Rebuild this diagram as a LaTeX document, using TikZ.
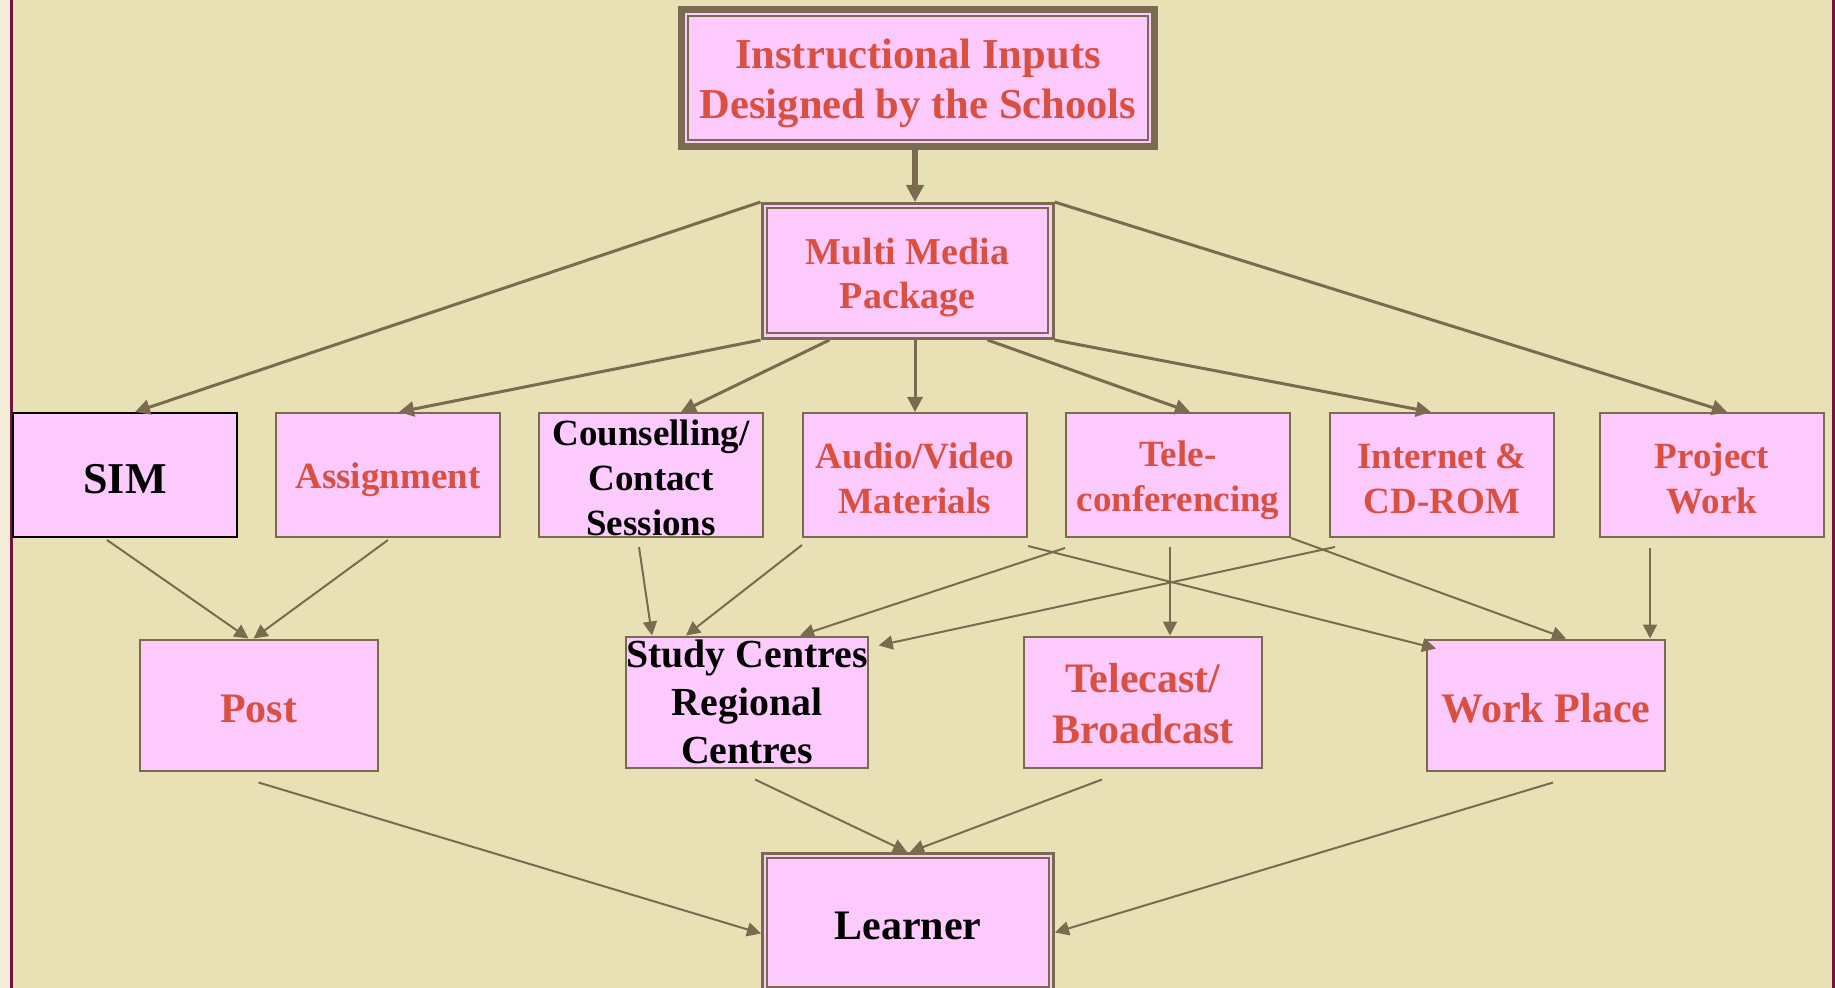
\documentclass[tikz,border=0pt]{standalone}
\usepackage{fontspec}
\setmainfont{Liberation Serif}
\usetikzlibrary{positioning, arrows.meta, calc}

\definecolor{khaki}{RGB}{232,225,182}
\definecolor{paper}{RGB}{243,236,214}
\definecolor{maroon}{RGB}{118,18,64}
\definecolor{boxpink}{RGB}{253,202,253}
\definecolor{framebrown}{RGB}{122,106,80}
\definecolor{inkred}{RGB}{217,80,64}

\begin{document}
\begin{tikzpicture}[
    x=0.5pt, y=-0.5pt,
    node distance=18.5pt,
    toppad/.initial=0pt,
    box/.style={
        rectangle,
        draw=framebrown, line width=1pt,
        fill=boxpink,
        align=center,
        inner sep=0pt,
        minimum width=112pt,
        minimum height=62pt,
        text=inkred,
        toppad=38.3pt,
        execute at begin node={\rule{0pt}{\pgfkeysvalueof{/tikz/toppad}}},
        font=\bfseries\fontsize{18.5}{22.5}\selectfont
    },
    lowbox/.style={
        box,
        minimum width=119pt,
        minimum height=65.5pt,
        toppad=17.5pt,
        font=\bfseries\fontsize{21}{24}\selectfont
    },
    title/.style={
        box,
        line width=3.5pt,
        minimum width=236.5pt,
        minimum height=68.5pt,
        toppad=45.6pt,
        font=\bfseries\fontsize{21.3}{25}\selectfont
    },
    package/.style={
        box,
        line width=1.5pt,
        minimum width=145.5pt,
        minimum height=67.5pt,
        toppad=42.1pt,
        font=\bfseries\fontsize{19}{22}\selectfont
    },
    link/.style={
        draw=framebrown, line width=1pt,
        -{Triangle[length=7pt,width=7pt]}
    },
    biglink/.style={
        link, line width=1.5pt,
        -{Triangle[length=7.5pt,width=7.5pt]}
    }
]

% Background
\fill[khaki] (0,0) rectangle (1835,988);
\fill[paper] (0,0) rectangle (10,988);
\fill[maroon] (10,0) rectangle (13,988);
\fill[maroon] (1832,0) rectangle (1835,988);
\useasboundingbox (0,0) rectangle (1835,988);

% Title
\node[title] (title) at (918,78)
{Instructional Inputs\\Designed by the Schools};

\node[package] (mm) at (907.5,271)
{Multi Media\\Package};

% First row
\node[box,draw=black,text=black,toppad=19.2pt,
      font=\bfseries\fontsize{22}{26}\selectfont] (sim) at (125,475) {SIM};
\node[box,right=of sim,toppad=18pt] (asg) {Assignment};
\node[box,right=of asg,text=black,toppad=60.2pt] (cou) {Counselling/\\Contact\\Sessions};
\node[box,right=19pt of cou] (av) {Audio/Video\\Materials};
\node[box,right=of av,toppad=40.5pt] (tele) {Tele-\\conferencing};
\node[box,right=19pt of tele] (inet) {Internet \&\\CD-ROM};
\node[box,right=22pt of inet] (proj) {Project\\Work};

% Second row
\node[lowbox] (post) at (258.5,705) {Post};
\node[lowbox,text=black,toppad=0pt,
      font=\bfseries\fontsize{19.9}{24}\selectfont] (study) at (747,702) {Study Centres\\Regional\\Centres};
\node[lowbox,toppad=42pt,
      font=\bfseries\fontsize{21}{25.5}\selectfont] (tcast) at (1143,702) {Telecast/\\Broadcast};
\node[lowbox] (work) at (1546,705) {Work Place};

% Learner
\node[package,minimum height=69pt,text=black,toppad=17pt,
      font=\bfseries\fontsize{21}{24}\selectfont] (learner) at (908,922.5) {Learner};

% double frames
\foreach \n/\d in {title/5pt, mm/3.25pt, learner/3pt}
    \draw[framebrown, line width=1pt]
        ([shift={(\d,-\d)}]\n.north west) rectangle ([shift={(-\d,\d)}]\n.south east);

% Inputs to package
\draw[link, line width=3pt, -{Triangle[length=8.5pt,width=8.5pt]}]
    ([xshift=-1.5pt]title.south) -- ([xshift=-1.5pt]title.south |- mm.north);

% Package to media
\draw[biglink] (mm.north west) -- ([xshift=5pt]sim.north);
\draw[biglink] (mm.south west) -- ([xshift=5.5pt]asg.north);
\draw[biglink] ([xshift=-39pt]mm.south) -- ([xshift=15pt]cou.north);
\draw[biglink] (mm.south -| av.north) -- (av.north);
\draw[biglink] ([xshift=40pt]mm.south) -- ([xshift=6pt]tele.north);
\draw[biglink] (mm.south east) -- ([xshift=-5.5pt]inet.north);
\draw[biglink] (mm.north east) -- ([xshift=7.5pt]proj.north);

% Media to delivery
\draw[link] ([xshift=-9pt,yshift=-1pt]sim.south) -- ([xshift=-5pt]post.north);
\draw[link] ([yshift=-1pt]asg.south) -- ([xshift=-2.5pt]post.north);
\draw[link] ([xshift=-6pt,yshift=-4.5pt]cou.south) -- ([xshift=-47.5pt]study.north);
\draw[link] ([yshift=-3.5pt]av.south west) -- ([xshift=-30.5pt]study.north);
\draw[link] ([yshift=-5pt]tele.south west) -- ([xshift=26.5pt]study.north);
\draw[link] ([xshift=3pt,yshift=-4.5pt]inet.south west) -- ([xshift=5pt,yshift=-5pt]study.north east);
\draw[link] ([yshift=-4pt]av.south east) -- ([xshift=5pt,yshift=-5pt]work.north west);
\draw[link] (tele.south east) -- ([xshift=10pt]work.north);
\draw[link] ([xshift=-4pt,yshift=-4.5pt]tele.south) -- ([xshift=-4pt]tele.south |- tcast.north);
\draw[link] ([xshift=-31pt,yshift=-5pt]proj.south) -- ([xshift=-31pt]proj.south |- work.north);

% Delivery to learner
\draw[link] ([yshift=-5.5pt]post.south) -- ([yshift=-5.5pt]learner.west);
\draw[link] ([xshift=4pt,yshift=-5.5pt]study.south) -- ([xshift=-0.5pt]learner.north);
\draw[link] ([xshift=-20.5pt,yshift=-5.5pt]tcast.south) -- ([xshift=1pt]learner.north);
\draw[link] ([xshift=3.5pt,yshift=-5.5pt]work.south) -- ([yshift=-5pt]learner.east);

\end{tikzpicture}
\end{document}
